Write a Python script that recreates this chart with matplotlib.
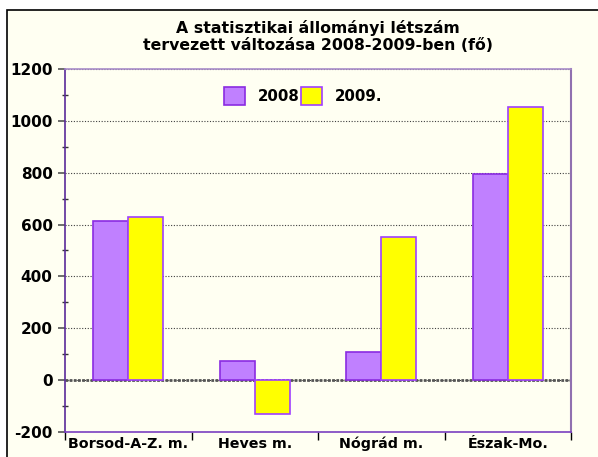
import matplotlib
matplotlib.use("Agg")
import matplotlib.pyplot as plt
import numpy as np
from matplotlib.patches import Rectangle
from matplotlib.ticker import MultipleLocator

plt.rcParams["font.family"] = ["DejaVu Sans"]
plt.rcParams["font.weight"] = "bold"
plt.rcParams["axes.unicode_minus"] = False

categories = ["Borsod-A-Z. m.", "Heves m.", "Nógrád m.", "Észak-Mo."]
values_2008 = [615, 73, 110, 796]
values_2009 = [631, -131, 553, 1053]
series_names = ["2008", "2009."]

bg = "#fffff2"

fig = plt.figure(figsize=(5.98, 4.57), dpi=100)
fig.patch.set_facecolor("white")
# outer chart frame
fig.patches.append(Rectangle((7 / 598, -0.01), 1.05, 1 - 10 / 457 + 0.01,
                             transform=fig.transFigure, facecolor=bg,
                             edgecolor="black", linewidth=1.2, zorder=-10))

ax = fig.add_axes([65 / 598, 25 / 457, 506 / 598, 363 / 457])
ax.set_facecolor(bg)

x = np.arange(len(categories))
w = 0.277
ax.bar(x - w / 2, values_2008, w, color="#c080ff", edgecolor="#8a2be2",
       linewidth=1.2, label=series_names[0], zorder=3)
ax.bar(x + w / 2, values_2009, w, color="#ffff00", edgecolor="#a040ff",
       linewidth=1.2, label=series_names[1], zorder=3)

ax.set_xlim(-0.5, len(categories) - 0.5)
ax.set_ylim(-200, 1200)
ax.yaxis.set_major_locator(MultipleLocator(200))
ax.yaxis.set_minor_locator(MultipleLocator(100))
ax.grid(axis="y", which="major", color="#404040", linestyle=(0, (1, 1.5)),
        linewidth=0.8, zorder=1)
ax.axhline(0, color="#555555", linewidth=2, linestyle=(0, (1, 0.5)), zorder=2)

ax.set_xticks(x)
ax.set_xticklabels(categories, fontsize=10.3, fontweight="bold")
ax.set_xticks(np.arange(len(categories) + 1) - 0.5, minor=True)
ax.tick_params(axis="x", which="major", length=0, pad=3.5)
ax.tick_params(axis="x", which="minor", length=6, direction="out",
               color="black", width=1)
ax.tick_params(axis="y", which="major", length=5, direction="out",
               labelsize=11, color="#555555", width=1.2, pad=4)
ax.tick_params(axis="y", which="minor", length=4, direction="inout",
               color="#333333", width=1)
for lab in ax.get_yticklabels():
    lab.set_fontweight("bold")

ax.spines["left"].set_color("#5a2a9a")
ax.spines["left"].set_linewidth(1.2)
ax.spines["bottom"].set_color("#7a40c0")
ax.spines["bottom"].set_linewidth(1.2)
ax.spines["top"].set_color("#a88cc8")
ax.spines["top"].set_linewidth(1.2)
ax.spines["right"].set_color("#9070b0")
ax.spines["right"].set_linewidth(1.5)

leg = ax.legend(loc="upper center", bbox_to_anchor=(0.47, 0.987), ncol=2,
                frameon=False, handlelength=1.45, handleheight=1.4,
                handletextpad=0.8, columnspacing=0.1,
                prop={"weight": "bold", "size": 10.8})

fig.text(0.532, 0.92, "A statisztikai állományi létszám\ntervezett változása 2008-2009-ben (fő)",
         ha="center", va="center", fontsize=11.3, fontweight="bold",
         linespacing=1.1)

fig.savefig("out.png", dpi=100, facecolor=fig.get_facecolor())
